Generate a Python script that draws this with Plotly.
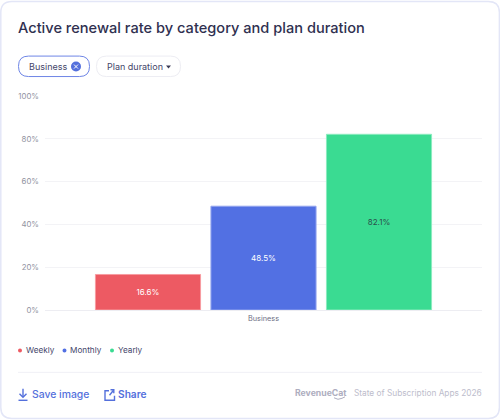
import plotly.graph_objects as go

categories = ["Business"]
plan_names = ["Weekly", "Monthly", "Yearly"]
weekly = [16.6]
monthly = [48.5]
yearly = [82.1]
bar_colors = ["#ED5A63", "#5270E3", "#3ADB92"]
edge_colors = ["#F79CA1", "#93A5EE", "#8BEBBF"]
label_colors = ["#FFFFFF", "#FFFFFF", "#2A4F4C"]
y_ticks = [0, 20, 40, 60, 80, 100]
y_tick_labels = ["0%", "20%", "40%", "60%", "80%", "100%"]

W, H = 500, 420
L, R, T, B = 45, 482, 95.5, 310
FONT = "Inter, 'Open Sans', sans-serif"
INK = "#2F3050"
BLUE = "#5470DC"


def px(x):
    return (x - L) / (R - L)


def py(y):
    return (B - y) / (B - T)


def rounded(x0, y0, x1, y1, r):
    return (
        f"M{px(x0 + r)},{py(y0)} L{px(x1 - r)},{py(y0)} "
        f"Q{px(x1)},{py(y0)} {px(x1)},{py(y0 + r)} L{px(x1)},{py(y1 - r)} "
        f"Q{px(x1)},{py(y1)} {px(x1 - r)},{py(y1)} L{px(x0 + r)},{py(y1)} "
        f"Q{px(x0)},{py(y1)} {px(x0)},{py(y1 - r)} L{px(x0)},{py(y0 + r)} "
        f"Q{px(x0)},{py(y0)} {px(x0 + r)},{py(y0)} Z"
    )


def polyline(points, close=False):
    head = " ".join(
        ("M" if i == 0 else "L") + f"{px(x)},{py(y)}" for i, (x, y) in enumerate(points)
    )
    return head + (" Z" if close else "")


def path_shape(d, line=None, fill=None, width=1.0):
    return dict(
        type="path", path=d, xref="paper", yref="paper", layer="below",
        line=dict(color=line or "rgba(0,0,0,0)", width=width),
        fillcolor=fill or "rgba(0,0,0,0)",
    )


def icon_shape(d, color=BLUE, width=1.4):
    s = path_shape(d, line=color, width=width)
    s["layer"] = "above"
    return s


def dot(cx, cy, r, color, layer="below"):
    return dict(
        type="circle", xref="paper", yref="paper", layer=layer,
        x0=px(cx - r), x1=px(cx + r), y0=py(cy + r), y1=py(cy - r),
        line=dict(width=0), fillcolor=color,
    )


def hline(x0, x1, y, color):
    return dict(
        type="line", xref="paper", yref="paper", layer="below",
        x0=px(x0), x1=px(x1), y0=py(y), y1=py(y),
        line=dict(color=color, width=1),
    )


def text(x, y, s, size, color, anchor="left", weight=400):
    # annotation boxes carry a small inner pad, so nudge the anchor outward
    nudge = -2 if anchor == "left" else 2
    return dict(
        x=px(x + nudge), y=py(y), xref="paper", yref="paper", text=s, showarrow=False,
        xanchor=anchor, yanchor="middle", align=anchor,
        font=dict(family=FONT, size=size, color=color, weight=weight),
    )


fig = go.Figure()
for name, vals, color, edge, lab in zip(
    plan_names, [weekly, monthly, yearly], bar_colors, edge_colors, label_colors
):
    fig.add_bar(
        x=categories, y=vals, name=name,
        marker=dict(color=color, line=dict(color=edge, width=1)),
        text=[f"{v:.1f}%" for v in vals], textposition="inside",
        insidetextanchor="middle", textangle=0,
        textfont=dict(family=FONT, size=8, color=lab),
        showlegend=False, hoverinfo="skip",
    )

shapes = [
    # card, filter pills and footer divider
    path_shape(rounded(0.8, 0.8, 499.4, 418.8, 11), line="#E3E6F7", fill="#FFFFFF", width=1.5),
    path_shape(rounded(18.5, 55.5, 89.5, 76, 10), line="#6F86E6", fill="#FFFFFF", width=1),
    path_shape(rounded(96.5, 55.5, 180.5, 76, 10), line="#EDEDF3", fill="#FFFFFF", width=1),
    hline(18, 482, 372.5, "#F0F0F6"),
    dot(76, 66, 5, BLUE),
    # chevron in the plan duration pill
    path_shape(polyline([(166, 65), (171, 65), (168.5, 68)], close=True), fill="#3A3A55"),
]
# cross inside the selected pill
shapes.append(icon_shape(polyline([(74, 64), (78, 68)]), color="#FFFFFF", width=1))
shapes.append(icon_shape(polyline([(78, 64), (74, 68)]), color="#FFFFFF", width=1))

# download arrow
shapes.append(icon_shape(polyline([(23, 389), (23, 397)])))
shapes.append(icon_shape(polyline([(19.5, 394), (23, 397.5), (26.5, 394)])))
shapes.append(icon_shape(polyline([(18.5, 400.5), (27.5, 400.5)])))
# external-link box
shapes.append(icon_shape(polyline([(109, 391), (105, 391), (105, 400.5), (114.5, 400.5), (114.5, 396)])))
shapes.append(icon_shape(polyline([(109.5, 395.5), (113.5, 390.5)])))
shapes.append(icon_shape(polyline([(110.5, 390), (113.8, 390), (113.8, 393.5)])))
# whisker stroke under the wordmark
shapes.append(icon_shape(polyline([(334, 398), (338, 399.5), (342, 398.5), (345, 397)]), color="#AEAEC0", width=1))

annotations = [
    text(18, 27.5, "Active renewal rate by category and plan duration", 14.6, INK, weight=500),
    text(29, 65.5, "Business", 9, "#45466A"),
    text(107, 65.5, "Plan duration", 9, "#45466A"),
    text(32, 394.5, "Save image", 10.4, BLUE, weight=500),
    text(118, 394.5, "Share", 10.2, BLUE, weight=600),
    text(295, 393.5, "RevenueCat", 8.7, "#AEAEC0", weight=700),
    text(482, 393.5, "State of Subscription Apps 2026", 8.3, "#BDBDCC", anchor="right"),
]

# legend row
legend_dots = [20, 64.5, 112]
legend_text = [25.5, 70, 117.5]
for name, color, dx, tx in zip(plan_names, bar_colors, legend_dots, legend_text):
    shapes.append(dot(dx, 350.5, 2, color))
    annotations.append(text(tx, 350.5, name, 8.2, "#45466A"))

fig.update_layout(
    width=W, height=H,
    margin=dict(l=L, r=W - R, t=T, b=H - B, pad=0),
    paper_bgcolor="#FFFFFF", plot_bgcolor="rgba(0,0,0,0)",
    barmode="group", bargap=0.207, bargroupgap=0.09,
    font=dict(family=FONT),
    xaxis=dict(
        showgrid=False, zeroline=False, ticks="", showline=False,
        ticklabelstandoff=3,
        tickfont=dict(family=FONT, size=7.3, color="#6D6E85"),
    ),
    yaxis=dict(
        range=[0, 100], tickvals=y_ticks, ticktext=y_tick_labels,
        gridcolor="#F3F3F6", gridwidth=1, zeroline=True,
        zerolinecolor="#EDEDF2", zerolinewidth=1, ticks="", showline=False,
        ticklabelstandoff=5,
        tickfont=dict(family=FONT, size=7.8, color="#92939F"),
    ),
    shapes=shapes, annotations=annotations,
)
fig.write_html("out.html", config=dict(displayModeBar=False))
